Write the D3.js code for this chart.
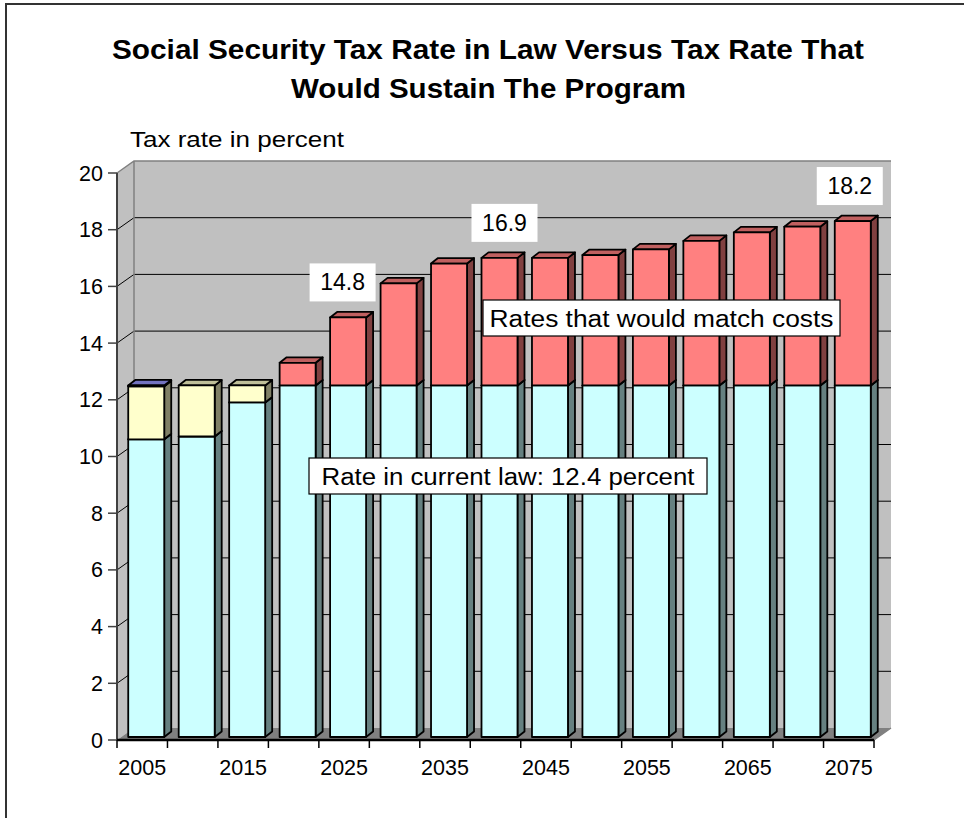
<!DOCTYPE html>
<html><head><meta charset="utf-8">
<script src="https://cdn.jsdelivr.net/npm/d3@7"></script>
<style>body{margin:0;background:#fff}svg{display:block;font-family:"Liberation Sans",Arial,sans-serif}</style>
</head><body>
<svg id="c" width="964" height="818"></svg>
<script>
// ---- data ----
const years = [2005,2010,2015,2020,2025,2030,2035,2040,2045,2050,2055,2060,2065,2070,2075];
const costWithinLaw = [10.5,10.6,11.8,12.4,12.4,12.4,12.4,12.4,12.4,12.4,12.4,12.4,12.4,12.4,12.4];
const surplus       = [1.87,1.8,0.6,0,0,0,0,0,0,0,0,0,0,0,0];
const otherSeries   = [0.03,0,0,0,0,0,0,0,0,0,0,0,0,0,0];
const excessCost    = [0,0,0,0.8,2.4,3.6,4.3,4.5,4.5,4.6,4.8,5.1,5.4,5.6,5.8];
const yTicks = [0,2,4,6,8,10,12,14,16,18,20];
const xLabelYears = [2005,2015,2025,2035,2045,2055,2065,2075];
const valueLabelYears = [2025,2040,2075];
const valueLabelTexts = ["14.8","16.9","18.2"];
const titleLines = ["Social Security Tax Rate in Law Versus Tax Rate That","Would Sustain The Program"];
const yAxisTitle = "Tax rate in percent";
const noteRates = "Rates that would match costs";
const noteLaw = "Rate in current law: 12.4 percent";

const labelNudge = [-1.5, 9, 1];

const series = [
  {vals: costWithinLaw, front:"#CCFFFF", side:"#668080", top:"#99BFBF"},
  {vals: surplus,       front:"#FFFFCC", side:"#808066", top:"#BFBF99"},
  {vals: otherSeries,   front:"#9999FF", side:"#4D4D80", top:"#7373BF"},
  {vals: excessCost,    front:"#FF8080", side:"#804040", top:"#C06060"}
];

const svg = d3.select("#c");
const x = d3.scaleBand().domain(years).range([117, 874]).padding(0);
const y = d3.scaleLinear().domain([0,20]).range([740,173]);
const WD = {dx:17, dy:-12};          // wall depth
const FO = {dx:4, dy:-3};            // bar front-face offset
const BD = {dx:7, dy:-5.5};          // bar depth
const barW = 36;

// frame
svg.append("path").attr("d","M6,818 V4 H964").attr("fill","none").attr("stroke","#333").attr("stroke-width",2);

// walls
const x0 = x.range()[0], x1 = x.range()[1];
const yTop = y(20), yBot = y(0);
svg.append("polygon").attr("points",[[x0+WD.dx,yBot+WD.dy],[x1+WD.dx,yBot+WD.dy],[x1+WD.dx,yTop+WD.dy],[x0+WD.dx,yTop+WD.dy]].join(" ")).attr("fill","#C0C0C0");
svg.append("polygon").attr("points",[[x0,yBot],[x0+WD.dx,yBot+WD.dy],[x0+WD.dx,yTop+WD.dy],[x0,yTop]].join(" ")).attr("fill","#C0C0C0");
svg.append("polygon").attr("points",[[x0,yBot],[x1,yBot],[x1+WD.dx,yBot+WD.dy],[x0+WD.dx,yBot+WD.dy]].join(" ")).attr("fill","#808080");

// gridlines
yTicks.filter(v=>v>0 && v<20).forEach(v=>{
  svg.append("path").attr("d",`M${x0},${y(v)} L${x0+WD.dx},${y(v)+WD.dy} H${x1+WD.dx}`)
    .attr("fill","none").attr("stroke","#000").attr("stroke-width",1);
});
// wall edges
svg.append("path").attr("d",`M${x0},${yTop} L${x0+WD.dx},${yTop+WD.dy} H${x1+WD.dx} M${x0+WD.dx},${yTop+WD.dy} V${yBot+WD.dy} M${x1},${yBot} L${x1+WD.dx},${yBot+WD.dy}`)
  .attr("fill","none").attr("stroke","#808080").attr("stroke-width",1.5);

// bars
const gBars = svg.append("g");
years.forEach((yr,i)=>{
  const fx = x(yr) + (x.bandwidth()-barW)/2 + FO.dx;
  let base = 0;
  series.forEach(s=>{
    const v = s.vals[i];
    if (v <= 0) return;
    const yb = y(base) + FO.dy, yt = y(base+v) + FO.dy;
    const g = gBars.append("g").attr("stroke","#000").attr("stroke-width",1.8).attr("stroke-linejoin","round");
    g.append("polygon").attr("points",[[fx+barW,yb],[fx+barW+BD.dx,yb+BD.dy],[fx+barW+BD.dx,yt+BD.dy],[fx+barW,yt]].join(" ")).attr("fill",s.side);
    g.append("polygon").attr("points",[[fx,yt],[fx+barW,yt],[fx+barW+BD.dx,yt+BD.dy],[fx+BD.dx,yt+BD.dy]].join(" ")).attr("fill",s.top);
    g.append("rect").attr("x",fx).attr("y",yt).attr("width",barW).attr("height",yb-yt).attr("fill",s.front);
    base += v;
  });
});

// y axis
svg.append("line").attr("x1",x0).attr("x2",x0).attr("y1",yBot).attr("y2",yTop).attr("stroke","#404040").attr("stroke-width",2);
yTicks.forEach(v=>{
  svg.append("line").attr("x1",x0-9).attr("x2",x0).attr("y1",y(v)).attr("y2",y(v)).attr("stroke","#404040").attr("stroke-width",1.5);
  svg.append("text").attr("x",x0-14).attr("y",y(v)+7.5).attr("text-anchor","end").attr("font-size",21.5).text(v);
});
// x axis
svg.append("line").attr("x1",x0).attr("x2",x1).attr("y1",yBot).attr("y2",yBot).attr("stroke","#000").attr("stroke-width",2.5);
years.concat([null]).forEach((yr,i)=>{
  const xx = yr===null ? x1 : x(yr);
  svg.append("line").attr("x1",xx).attr("x2",xx).attr("y1",yBot).attr("y2",yBot+8).attr("stroke","#000").attr("stroke-width",1.5);
});
xLabelYears.forEach(yr=>{
  svg.append("text").attr("x",x(yr)+x.bandwidth()/2).attr("y",775).attr("text-anchor","middle").attr("font-size",21.5).text(yr);
});

// title
svg.append("text").attr("x",488).attr("y",59).attr("text-anchor","middle").attr("font-size",28.5).attr("font-weight","bold")
  .attr("textLength",752).attr("lengthAdjust","spacingAndGlyphs").text(titleLines[0]);
svg.append("text").attr("x",488.5).attr("y",98).attr("text-anchor","middle").attr("font-size",28.5).attr("font-weight","bold")
  .attr("textLength",395).attr("lengthAdjust","spacingAndGlyphs").text(titleLines[1]);
svg.append("text").attr("x",130).attr("y",147).attr("font-size",22.5).attr("textLength",214).attr("lengthAdjust","spacingAndGlyphs").text(yAxisTitle);

// value labels
valueLabelYears.forEach((yr,i)=>{
  const idx = years.indexOf(yr);
  const total = series.reduce((a,s)=>a+s.vals[idx],0);
  const cx = x(yr) + x.bandwidth()/2 + labelNudge[i];
  const cy = y(total) + FO.dy - 35;
  svg.append("rect").attr("x",cx-33).attr("y",cy-19).attr("width",66).attr("height",38).attr("fill","#fff");
  svg.append("text").attr("x",cx).attr("y",cy+8).attr("text-anchor","middle").attr("font-size",23).text(valueLabelTexts[i]);
});

// notes
function note(txt, bx, by, bw, bh, tw){
  svg.append("rect").attr("x",bx).attr("y",by).attr("width",bw).attr("height",bh).attr("fill","#fff").attr("stroke","#000").attr("stroke-width",1.2);
  svg.append("text").attr("x",bx+bw/2).attr("y",by+bh/2+8.5).attr("text-anchor","middle").attr("font-size",23)
    .attr("textLength",tw).attr("lengthAdjust","spacingAndGlyphs").text(txt);
}
note(noteRates, 483, 300, 357, 36, 344);
note(noteLaw, 309, 458, 398, 36, 373);
</script>
</body></html>
